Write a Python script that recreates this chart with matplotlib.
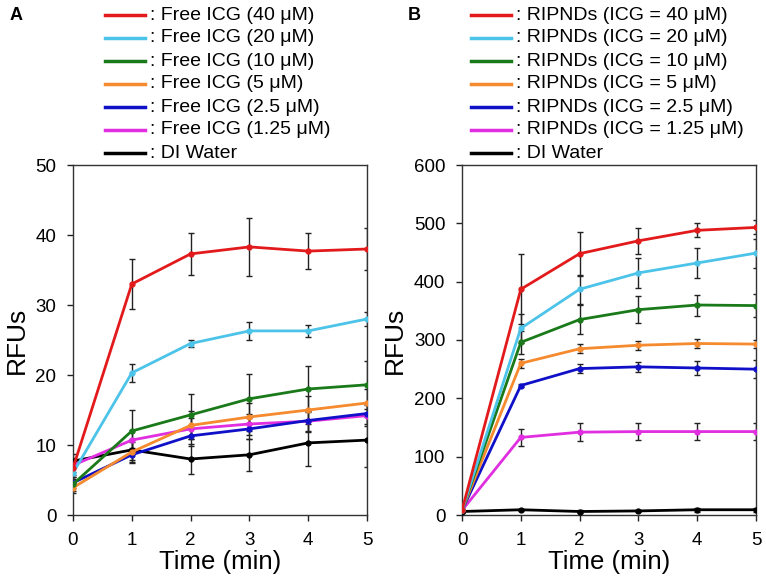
import matplotlib
matplotlib.use("Agg")
import matplotlib.pyplot as plt
from matplotlib.lines import Line2D

plt.rcParams['font.family'] = ['Liberation Sans', 'DejaVu Sans']

time = [0, 1, 2, 3, 4, 5]
colors = ['#e31a1c', '#4cc3e8', '#1a7a1a', '#f58a2e', '#1010c8', '#e02ee0', '#000000']

labels_a = [': Free ICG (40 μM)', ': Free ICG (20 μM)', ': Free ICG (10 μM)',
            ': Free ICG (5 μM)', ': Free ICG (2.5 μM)', ': Free ICG (1.25 μM)', ': DI Water']
labels_b = [': RIPNDs (ICG = 40 μM)', ': RIPNDs (ICG = 20 μM)', ': RIPNDs (ICG = 10 μM)',
            ': RIPNDs (ICG = 5 μM)', ': RIPNDs (ICG = 2.5 μM)', ': RIPNDs (ICG = 1.25 μM)', ': DI Water']

# Panel A: free ICG
a_40 = [6.7, 33.0, 37.3, 38.3, 37.7, 38.0]
a_20 = [6.0, 20.3, 24.5, 26.3, 26.3, 28.0]
a_10 = [4.4, 12.0, 14.3, 16.6, 18.0, 18.6]
a_5 = [3.9, 9.0, 12.8, 14.0, 15.0, 16.0]
a_25 = [4.6, 8.6, 11.3, 12.3, 13.5, 14.5]
a_125 = [7.1, 10.7, 12.3, 13.0, 13.4, 14.2]
a_w = [7.7, 9.3, 8.0, 8.6, 10.3, 10.7]

ea_40 = [1.0, 3.6, 3.0, 4.1, 2.6, 3.0]
ea_20 = [0.8, 1.3, 0.5, 1.3, 0.8, 1.0]
ea_10 = [1.0, 3.0, 3.0, 3.5, 3.3, 3.4]
ea_5 = [0.8, 1.5, 2.0, 2.0, 2.0, 2.0]
ea_25 = [0.8, 1.0, 1.5, 1.5, 1.5, 1.5]
ea_125 = [1.0, 1.5, 1.5, 1.5, 1.5, 1.5]
ea_w = [1.0, 1.5, 2.2, 2.3, 3.3, 3.8]

# Panel B: RIPNDs
b_40 = [8, 387, 448, 470, 488, 493]
b_20 = [8, 320, 387, 415, 432, 449]
b_10 = [8, 296, 335, 352, 360, 359]
b_5 = [8, 260, 285, 291, 294, 293]
b_25 = [8, 222, 251, 254, 252, 250]
b_125 = [8, 133, 142, 143, 143, 143]
b_w = [6, 9, 6, 7, 9, 9]

eb_40 = [3, 60, 38, 22, 12, 12]
eb_20 = [3, 25, 25, 25, 25, 25]
eb_10 = [3, 20, 25, 23, 18, 20]
eb_5 = [3, 8, 8, 8, 7, 7]
eb_25 = [3, 3, 8, 8, 12, 15]
eb_125 = [3, 15, 15, 15, 15, 15]
eb_w = [2, 2, 2, 2, 3, 3]

series_a = [a_40, a_20, a_10, a_5, a_25, a_125, a_w]
errs_a = [ea_40, ea_20, ea_10, ea_5, ea_25, ea_125, ea_w]
series_b = [b_40, b_20, b_10, b_5, b_25, b_125, b_w]
errs_b = [eb_40, eb_20, eb_10, eb_5, eb_25, eb_125, eb_w]

fig = plt.figure(figsize=(7.66, 5.81), dpi=100)
W, H = 766, 581

def add_axes(l, r, b, t):
    return fig.add_axes([l / W, 1 - b / H, (r - l) / W, (b - t) / H])

axA = add_axes(73, 367, 515, 165)
axB = add_axes(462, 756, 515, 165)

def draw(ax, series, errs, ymax, ystep):
    for ys, es, c in zip(series, errs, colors):
        ax.errorbar(time, ys, yerr=es, fmt='none', ecolor='#222222', elinewidth=1.0,
                    capsize=2.5, capthick=1.0, zorder=2)
    for ys, c in zip(series[::-1], colors[::-1]):
        ax.plot(time, ys, color=c, lw=2.0, marker='o', ms=3.5, zorder=3)
    ax.set_xlim(0, 5)
    ax.set_ylim(0, ymax)
    ax.set_xticks(time)
    ax.set_yticks(range(0, ymax + 1, ystep))
    ax.tick_params(axis='both', labelsize=13.5, direction='out', length=4, width=1,
                   pad=8, colors='#222222', labelcolor='black')
    for s in ax.spines.values():
        s.set_linewidth(1.0)
        s.set_color('#333333')
    ax.set_xlabel('Time (min)', fontsize=18.5, labelpad=1)
    ax.set_ylabel('RFUs', fontsize=19, labelpad=5)

draw(axA, series_a, errs_a, 50, 10)
draw(axB, series_b, errs_b, 600, 100)

def legend(x0, labels):
    rows = [15, 38, 61, 84, 107, 130, 153]
    for yy, lab, c in zip(rows, labels, colors):
        fig.add_artist(Line2D([x0 / W, (x0 + 40) / W], [1 - yy / H, 1 - yy / H],
                              color=c, lw=2.5, transform=fig.transFigure))
        fig.text((x0 + 45) / W, 1 - yy / H, lab, fontsize=14, va='center', ha='left')

legend(105, labels_a)
legend(471, labels_b)

fig.text(10 / W, 1 - 15 / H, 'A', fontsize=13, fontweight='bold', va='center')
fig.text(408 / W, 1 - 15 / H, 'B', fontsize=13, fontweight='bold', va='center')

fig.savefig('out.png', dpi=100)
